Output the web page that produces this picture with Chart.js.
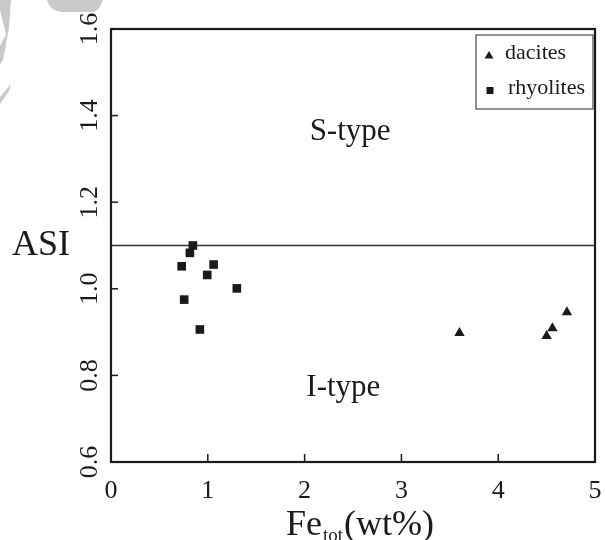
<!DOCTYPE html>
<html><head><meta charset="utf-8">
<script src="https://cdn.jsdelivr.net/npm/chart.js@4.4.1/dist/chart.umd.min.js"></script>
<style>html,body{margin:0;padding:0;background:#fff}#wrap{width:605px;height:540px}</style>
</head><body><div id="wrap"><canvas id="c" width="605" height="540"></canvas></div>
<script>
// ---- data ----
const daciteFe  = [3.60, 4.50, 4.56, 4.71];
const daciteASI = [0.898, 0.891, 0.909, 0.946];
const rhyoliteFe  = [0.846, 0.815, 0.73, 1.06, 0.994, 1.30, 0.756, 0.918];
const rhyoliteASI = [1.10, 1.083, 1.052, 1.056, 1.032, 1.001, 0.975, 0.906];
const xTicks = [0, 1, 2, 3, 4, 5];
const yTicks = [0.6, 0.8, 1.0, 1.2, 1.4, 1.6];
const seriesNames = ['dacites', 'rhyolites'];
const boundaryASI = 1.1;
const regionNames = ['S-type', 'I-type'];

const SERIF = '"Liberation Serif", "DejaVu Serif", serif';
const INK = '#1a1a1a';

function toPts(xs, ys) { return xs.map((x, i) => ({x: x, y: ys[i]})); }

const decor = {
  id: 'decor',
  beforeDraw(chart) {
    const ctx = chart.ctx;
    ctx.save();
    ctx.fillStyle = '#fff';
    ctx.fillRect(0, 0, chart.width, chart.height);
    // faint watermark pieces
    ctx.fillStyle = '#c9c9c9';
    ctx.beginPath();
    ctx.moveTo(47, 0);
    ctx.quadraticCurveTo(50, 11, 62, 12);
    ctx.lineTo(94, 12);
    ctx.quadraticCurveTo(100, 9, 103, 0);
    ctx.closePath();
    ctx.fill();
    ctx.beginPath();
    ctx.moveTo(0, 0); ctx.lineTo(11, 0); ctx.lineTo(9, 28); ctx.lineTo(3, 60); ctx.lineTo(0, 64);
    ctx.closePath(); ctx.fill();
    ctx.beginPath();
    ctx.moveTo(0, 97); ctx.lineTo(11, 84); ctx.lineTo(9, 91); ctx.lineTo(0, 104);
    ctx.closePath(); ctx.fill();
    ctx.fillStyle = '#fff';
    ctx.beginPath();
    ctx.moveTo(0, 10); ctx.lineTo(6, 34); ctx.lineTo(0, 46);
    ctx.closePath(); ctx.fill();
    ctx.restore();
  },
  beforeDatasetsDraw(chart) {
    const ctx = chart.ctx, a = chart.chartArea;
    const xs = chart.scales.x, ys = chart.scales.y;
    ctx.save();
    // boundary line
    const yb = ys.getPixelForValue(boundaryASI);
    ctx.strokeStyle = '#333';
    ctx.lineWidth = 1.5;
    ctx.beginPath(); ctx.moveTo(a.left, yb); ctx.lineTo(a.right, yb); ctx.stroke();
    // ticks (inward)
    ctx.strokeStyle = INK;
    ctx.lineWidth = 1.5;
    xs.ticks.forEach(t => {
      const px = xs.getPixelForValue(t.value);
      ctx.beginPath(); ctx.moveTo(px, a.bottom); ctx.lineTo(px, a.bottom - 8); ctx.stroke();
    });
    ys.ticks.forEach(t => {
      const py = ys.getPixelForValue(t.value);
      ctx.beginPath(); ctx.moveTo(a.left, py); ctx.lineTo(a.left + 7, py); ctx.stroke();
    });
    // frame
    ctx.lineWidth = 2.2;
    ctx.strokeRect(a.left, a.top, a.right - a.left, a.bottom - a.top);
    ctx.restore();
  },
  afterDraw(chart) {
    const ctx = chart.ctx, a = chart.chartArea;
    const xs = chart.scales.x, ys = chart.scales.y;
    ctx.save();
    ctx.fillStyle = INK;
    // rotated y tick labels
    ctx.font = '26px ' + SERIF;
    ctx.textAlign = 'center';
    ctx.textBaseline = 'alphabetic';
    ys.ticks.forEach(t => {
      const py = ys.getPixelForValue(t.value);
      ctx.save();
      ctx.translate(a.left - 14, py);
      ctx.rotate(-Math.PI / 2);
      ctx.fillText(t.value.toFixed(1), 0, 0);
      ctx.restore();
    });
    // y title
    ctx.font = '36px ' + SERIF;
    ctx.textAlign = 'center';
    ctx.fillText('ASI', 41, 255);
    // x title with subscript
    ctx.textAlign = 'left';
    let x0 = 286, base = 535;
    ctx.font = '36px ' + SERIF;
    ctx.fillText('Fe', x0, base);
    x0 += ctx.measureText('Fe').width + 1;
    ctx.font = '19px ' + SERIF;
    ctx.fillText('tot', x0, base + 6);
    x0 += ctx.measureText('tot').width + 1;
    ctx.font = '36px ' + SERIF;
    ctx.fillText('(wt%)', x0, base);
    // region labels
    ctx.font = '31px ' + SERIF;
    ctx.textAlign = 'center';
    ctx.fillText(regionNames[0], xs.getPixelForValue(2.47), ys.getPixelForValue(1.344));
    ctx.fillText(regionNames[1], xs.getPixelForValue(2.40), ys.getPixelForValue(0.753));
    // legend
    ctx.strokeStyle = '#555';
    ctx.lineWidth = 1.3;
    ctx.strokeRect(476, 35, 117, 74);
    ctx.fillStyle = INK;
    ctx.beginPath();
    ctx.moveTo(489, 51); ctx.lineTo(493.5, 58.5); ctx.lineTo(484.5, 58.5); ctx.closePath(); ctx.fill();
    ctx.fillRect(486.5, 87, 7, 7);
    ctx.font = '22px ' + SERIF;
    ctx.textAlign = 'left';
    ctx.fillText(chart.data.datasets[0].label, 505, 59);
    ctx.fillText(chart.data.datasets[1].label, 508, 94);
    ctx.restore();
  }
};

new Chart(document.getElementById('c'), {
  type: 'scatter',
  data: {
    datasets: [
      { label: seriesNames[0], data: toPts(daciteFe, daciteASI), pointStyle: 'triangle',
        pointRadius: 6, backgroundColor: INK, borderColor: INK, borderWidth: 0 },
      { label: seriesNames[1], data: toPts(rhyoliteFe, rhyoliteASI), pointStyle: 'rect',
        pointRadius: 6.1, backgroundColor: INK, borderColor: INK, borderWidth: 0 }
    ]
  },
  options: {
    responsive: false,
    animation: false,
    devicePixelRatio: 1,
    layout: { padding: { top: 29, right: 10, left: 0, bottom: 0 } },
    plugins: { legend: { display: false }, tooltip: { enabled: false } },
    scales: {
      x: {
        type: 'linear', min: 0, max: 5,
        afterBuildTicks: s => { s.ticks = xTicks.map(v => ({ value: v })); },
        afterFit: s => { s.height = 78; s.paddingLeft = 0; s.paddingRight = 0; },
        grid: { display: false, drawTicks: false },
        border: { display: false },
        ticks: { color: INK, padding: 14, font: { family: SERIF, size: 26 },
                 callback: v => String(v) }
      },
      y: {
        type: 'linear', min: 0.6, max: 1.6,
        afterBuildTicks: s => { s.ticks = yTicks.map(v => ({ value: v })); },
        afterFit: s => { s.width = 111; s.paddingTop = 0; s.paddingBottom = 0; },
        grid: { display: false, drawTicks: false },
        border: { display: false },
        ticks: { display: false }
      }
    }
  },
  plugins: [decor]
});
</script>
</body></html>
